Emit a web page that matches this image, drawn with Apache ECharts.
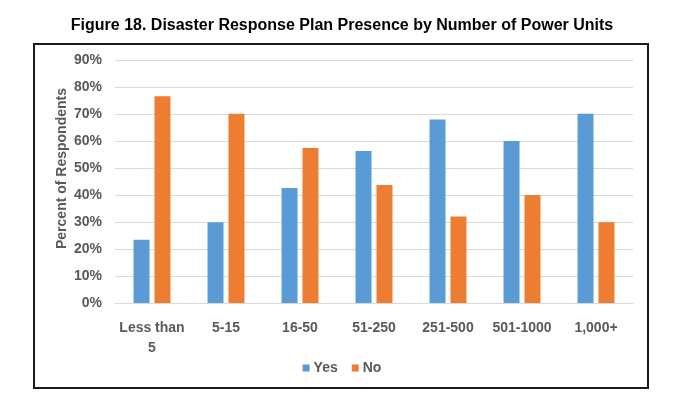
<!DOCTYPE html>
<html>
<head>
<meta charset="utf-8">
<script src="https://cdn.jsdelivr.net/npm/echarts@6/dist/echarts.min.js"></script>
<style>
  html, body { margin: 0; padding: 0; background: #fff; }
  #chart { width: 684px; height: 399px; }
</style>
</head>
<body>
<div id="chart"></div>
<script>
const categories = ['Less than\n5', '5-15', '16-50', '51-250', '251-500', '501-1000', '1,000+']
const yesValues = [23.4, 29.9, 42.6, 56.3, 68.0, 60.0, 70.1]
const noValues = [76.6, 70.1, 57.4, 43.7, 32.0, 40.0, 29.9]
const yTicks = [0, 10, 20, 30, 40, 50, 60, 70, 80, 90]

const font = 'Liberation Sans, Arial, sans-serif'
const labelColor = '#595959'

const chart = echarts.init(document.getElementById('chart'))
const option = {
  animation: false,
  color: ['#5B9BD5', '#ED7D31'],
  title: {
    text: 'Figure 18. Disaster Response Plan Presence by Number of Power Units',
    left: 'center',
    top: 13,
    textStyle: {
      color: '#000',
      fontFamily: font,
      fontWeight: 'bold',
      fontSize: 16,
    },
  },
  graphic: [
    {
      type: 'rect',
      shape: { x: 34, y: 44, width: 614, height: 344 },
      style: { fill: 'none', stroke: '#1a1a1a', lineWidth: 2 },
      silent: true,
    },
  ],
  legend: {
    data: ['Yes', 'No'],
    left: 'center',
    top: 356,
    itemWidth: 7,
    itemHeight: 7,
    itemGap: 14,
    icon: 'rect',
    textStyle: {
      color: labelColor,
      fontFamily: font,
      fontWeight: 'bold',
      fontSize: 14,
      padding: [0, 0, 0, -1],
    },
  },
  grid: {
    left: 115,
    right: 51,
    top: 60,
    bottom: 96,
  },
  xAxis: {
    type: 'category',
    data: categories,
    axisTick: { show: false },
    axisLine: { lineStyle: { color: '#d9d9d9' } },
    axisLabel: {
      color: labelColor,
      fontFamily: font,
      fontWeight: 'bold',
      fontSize: 14,
      margin: 15,
      lineHeight: 20,
      interval: 0,
    },
  },
  yAxis: {
    type: 'value',
    min: yTicks[0],
    max: yTicks[yTicks.length - 1],
    interval: 10,
    name: 'Percent of Respondents',
    nameLocation: 'middle',
    nameGap: 46,
    nameMoveOverlap: false,
    nameTextStyle: {
      color: labelColor,
      fontFamily: font,
      fontWeight: 'bold',
      fontSize: 14,
      padding: [0, 0, 0, 26],
    },
    axisLine: { show: false },
    axisTick: { show: false },
    splitLine: { lineStyle: { color: '#d9d9d9' } },
    axisLabel: {
      formatter: '{value}%',
      color: labelColor,
      fontFamily: font,
      fontWeight: 'bold',
      fontSize: 14,
      margin: 13,
    },
  },
  series: [
    {
      name: 'Yes',
      type: 'bar',
      data: yesValues,
      barWidth: 16,
      barGap: '31%',
    },
    {
      name: 'No',
      type: 'bar',
      data: noValues,
      barWidth: 16,
      barGap: '31%',
    },
  ],
}
chart.setOption(option)
</script>
</body>
</html>
